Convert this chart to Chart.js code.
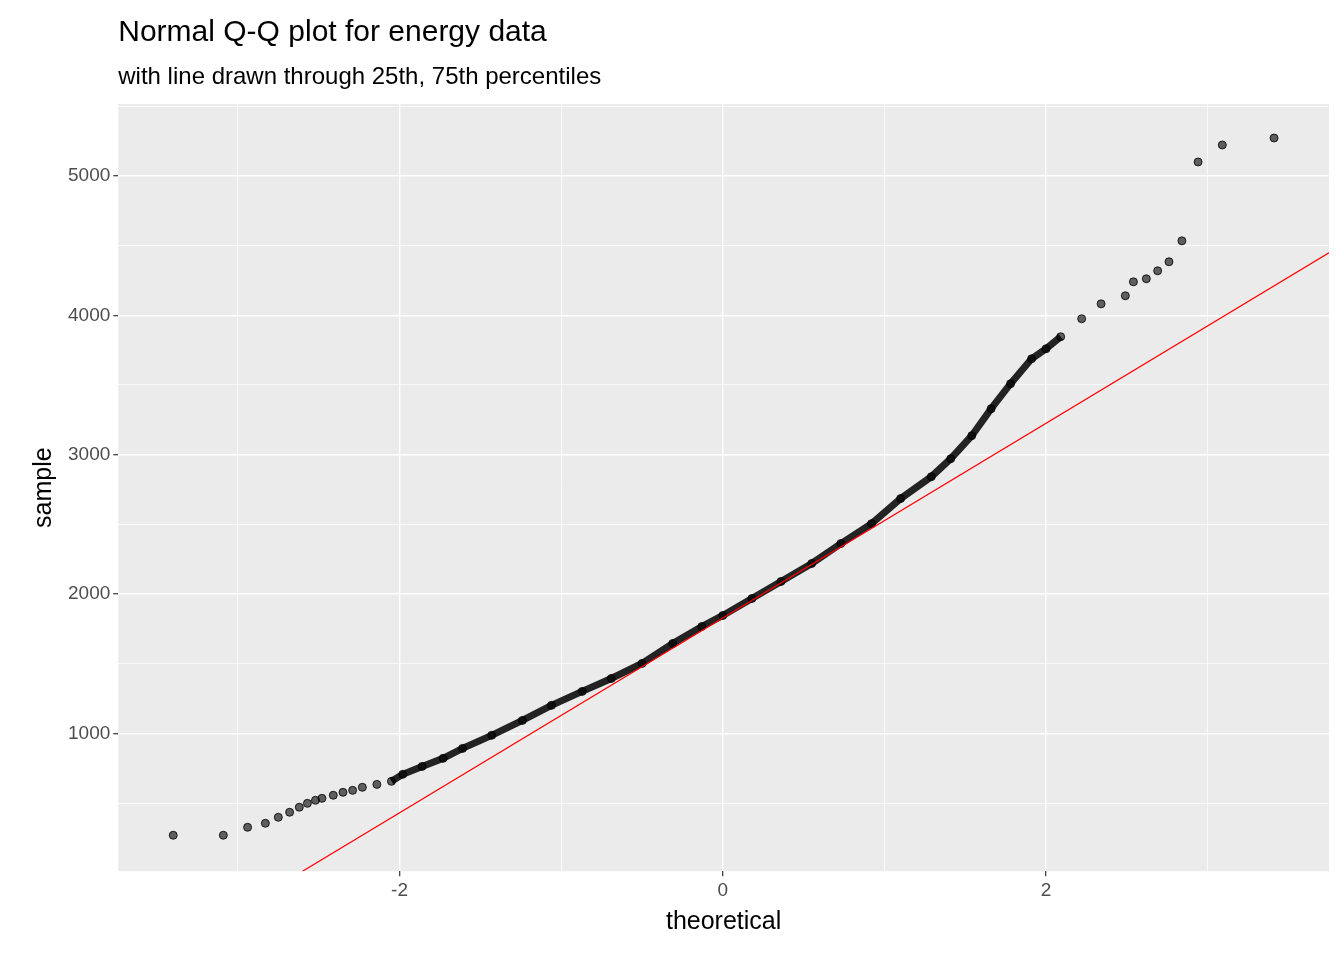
<!DOCTYPE html>
<html><head><meta charset="utf-8">
<script src="https://cdn.jsdelivr.net/npm/chart.js@4"></script>
<style>body{margin:0;background:#fff}#w{width:1344px;height:960px}</style>
</head><body><div id="w"><canvas id="c"></canvas></div>
<script>
const theoretical=[-3.40,-3.09,-2.94,-2.83,-2.75,-2.68,-2.62,-2.57,-2.52,-2.48,-2.41,-2.35,-2.29,-2.23,-2.14,-2.05,-1.98,-1.86,-1.73,-1.61,-1.43,-1.24,-1.06,-0.87,-0.69,-0.50,-0.31,-0.13,0,0.18,0.36,0.55,0.73,0.92,1.10,1.29,1.41,1.54,1.66,1.78,1.91,2.0,2.09,2.22,2.34,2.49,2.54,2.62,2.69,2.76,2.84,2.94,3.09,3.41];
const sample=[269,269,326,355,398,434,470,498,520,534,556,577,591,613,634,656,706,763,821,892,986,1093,1201,1301,1394,1502,1645,1767,1846,1968,2090,2219,2362,2505,2685,2842,2971,3136,3330,3509,3688,3760,3846,3975,4082,4140,4240,4262,4319,4384,4534,5100,5222,5272];
const lineX=[-2.6,3.75];
const lineY=[11,4448];
const xTicks=[-2,0,2];
const yTicks=[1000,2000,3000,4000,5000];
const pts=theoretical.map((x,i)=>({x,y:sample[i]}));
const body=pts.filter(p=>p.x>=-2.1&&p.x<=2.1);
const bg={id:'bg',beforeDraw(c){const a=c.chartArea,g=c.ctx;g.save();g.fillStyle='#EBEBEB';g.fillRect(a.left,a.top,a.right-a.left,a.bottom-a.top);g.restore();},
afterDraw(c){const g=c.ctx,a=c.chartArea;g.save();g.fillStyle='#000';g.textBaseline='alphabetic';g.font='30px Arial, "Liberation Sans"';g.fillText('Normal Q-Q plot for energy data',a.left,41);g.font='24px Arial, "Liberation Sans"';g.fillText('with line drawn through 25th, 75th percentiles',a.left,84);g.restore();}};
const gridW=ctx=>{const v=ctx.tick&&ctx.tick.value;return v===undefined?0:(ctx.scale.axis==='x'?(Math.abs(v%2)<1e-6?1.4:0.7):(Math.abs(v%1000)<1e-6?1.4:0.7));};
new Chart(document.getElementById('c'),{type:'scatter',
data:{datasets:[
{data:lineX.map((x,i)=>({x,y:lineY[i]})),showLine:true,borderColor:'#FF0000',borderWidth:1.3,pointRadius:0,order:0},
{data:body,showLine:true,borderColor:'rgba(0,0,0,0.85)',borderWidth:7,pointRadius:0,order:2},
{data:pts,backgroundColor:'rgba(0,0,0,0.6)',borderColor:'rgba(0,0,0,0.8)',borderWidth:1,pointRadius:4,order:1}]},
options:{responsive:true,maintainAspectRatio:false,animation:false,
layout:{padding:{top:104,right:15,left:25,bottom:19}},
plugins:{legend:{display:false},tooltip:{enabled:false}},
scales:{
x:{type:'linear',min:-3.74,max:3.75,
 afterBuildTicks(s){s.ticks=[-3,-2,-1,0,1,2,3].map(v=>({value:v}));},
 ticks:{color:'#4D4D4D',font:{size:19,family:'Arial'},callback:v=>xTicks.includes(v)?String(v):''},
 grid:{color:'#FFFFFF',lineWidth:gridW,drawTicks:true,tickLength:5,tickColor:ctx=>xTicks.includes(ctx.tick.value)?'#333':'rgba(0,0,0,0)',tickWidth:1.2},border:{display:false},
 title:{display:true,text:'theoretical',color:'#000',font:{size:25,family:'Arial'},padding:{top:2}}},
y:{type:'linear',min:11,max:5516,
 afterBuildTicks(s){s.ticks=[500,1000,1500,2000,2500,3000,3500,4000,4500,5000,5500].map(v=>({value:v}));},
 ticks:{color:'#4D4D4D',font:{size:19,family:'Arial'},callback:v=>yTicks.includes(v)?String(v):''},
 grid:{color:'#FFFFFF',lineWidth:gridW,drawTicks:true,tickLength:5,tickColor:ctx=>yTicks.includes(ctx.tick.value)?'#333':'rgba(0,0,0,0)',tickWidth:1.2},border:{display:false},
 title:{display:true,text:'sample',color:'#000',font:{size:25,family:'Arial'},padding:{bottom:6}}}}},
plugins:[bg]});
</script></body></html>
